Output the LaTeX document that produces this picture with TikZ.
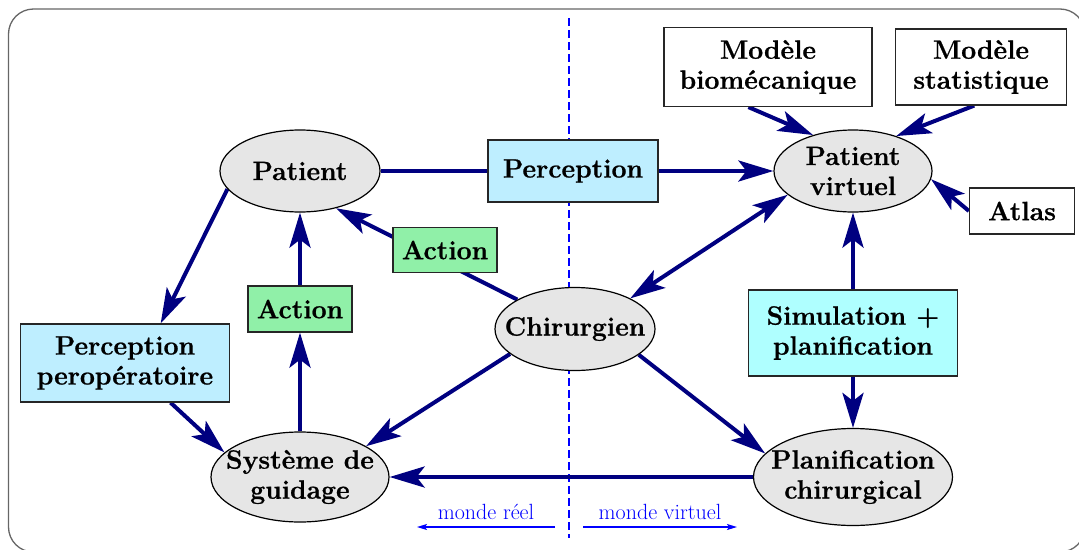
\documentclass[tikz,border=0pt]{standalone}
\usepackage{fontspec}
\setmainfont{Latin Modern Roman}[BoldFeatures={FakeBold=0.8}]
\usetikzlibrary{arrows.meta,shapes.geometric,backgrounds}
\definecolor{navyc}{RGB}{0,0,128}
\definecolor{ellgray}{RGB}{230,230,230}
\definecolor{percol}{RGB}{190,238,255}
\definecolor{simcol}{RGB}{175,255,255}
\definecolor{actcol}{RGB}{144,240,168}
\begin{document}
\begin{tikzpicture}[x=1pt,y=-1pt,
  lbl/.style={font=\fontsize{26.5}{30}\selectfont\bfseries, align=center, inner sep=0pt},
  ell/.style={lbl, ellipse, draw=black, line width=1.2pt, fill=ellgray, inner sep=-30pt},
  box/.style={lbl, rectangle, draw=black!85, line width=1.2pt},
  arr/.style={draw=navyc, line width=4pt, -{Stealth[length=35pt,width=21pt,inset=8pt]}},
  darr/.style={draw=navyc, line width=4pt, {Stealth[length=35pt,width=21pt,inset=8pt]}-{Stealth[length=35pt,width=21pt,inset=8pt]}},
  blarr/.style={draw=blue, line width=1.3pt, -{Stealth[length=10pt,width=6pt,inset=2pt]}},
  bltext/.style={font=\fontsize{22}{24}\selectfont, text=blue, inner sep=0pt},
  divider/.style={draw=blue, line width=2pt, dash pattern=on 8pt off 4pt}
]
\useasboundingbox (0,0) rectangle (1079,549);
\draw[black!60, line width=1.3pt, rounded corners=25pt] (8.5,9) rectangle (1085,552);

% nodes
\node[ell, minimum width=160pt, minimum height=82pt] (pat) at (300,171) {Patient};
\node[box, fill=percol, minimum width=170pt, minimum height=62pt] (perc) at (573,171) {Perception};
\node[box, fill=actcol, minimum width=104pt, minimum height=45pt] (act1) at (445,250) {Action};
\node[box, fill=white, minimum width=208pt, minimum height=79pt] (bio) at (768,67) {Modèle\\biomécanique};
\node[box, fill=white, minimum width=171pt, minimum height=76pt] (stat) at (981,67) {Modèle\\statistique};
\node[ell, minimum width=158pt, minimum height=82pt] (pv) at (853,171) {Patient\\virtuel};
\node[box, fill=white, minimum width=105pt, minimum height=46pt] (atlas) at (1022,211) {Atlas};
\node[box, fill=percol, minimum width=209pt, minimum height=78pt] (perop) at (125,363) {Perception\\peropératoire};
\node[box, fill=actcol, minimum width=104pt, minimum height=46pt] (act2) at (300,309) {Action};
\node[ell, minimum width=178pt, minimum height=90pt] (sys) at (300,477) {Système de\\guidage};
\node[ell, minimum width=160pt, minimum height=83pt] (chir) at (575,329) {Chirurgien};
\node[box, fill=simcol, minimum width=209pt, minimum height=86pt] (sim) at (853,333) {Simulation +\\planification};
\node[ell, minimum width=199pt, minimum height=97pt] (plan) at (853,477) {Planification\\chirurgical};

\coordinate (dtop) at (569,18);
\coordinate (dbot) at (569,538);
\coordinate (mrA) at (555,527);
\coordinate (mrB) at (417,527);
\coordinate (mvA) at (583,527);
\coordinate (mvB) at (737,527);

\begin{pgfonlayer}{background}
\draw[divider] (dtop) -- (dbot);
\draw[arr] (pat) -- (pv);
\draw[arr] (pat.194) -- (perop.48);
\draw[arr] (perop.-41) -- (sys.162);
\draw[arr] (sys) -- (act2);
\draw[arr] (act2) -- (pat);
\draw[arr] (chir.153) -- (pat.-46);
\draw[darr] (chir.29) -- (pv.200);
\draw[arr] (chir.201) -- (sys.25);
\draw[arr] (chir.-22) -- (plan.165);
\draw[arr] (plan) -- (sys);
\draw[arr] (sim) -- (plan);
\draw[arr] (sim) -- (pv);
\draw[arr] (bio.244) -- (pv.138);
\draw[arr] (stat.260) -- (pv.39);
\draw[arr] (atlas.west) -- (pv.-6);
\end{pgfonlayer}

\draw[blarr] (mrA) -- (mrB) node[midway, above=7pt, bltext] (mrl) {monde réel};
\draw[blarr] (mvA) -- (mvB) node[midway, above=7pt, bltext] (mvl) {monde virtuel};
\end{tikzpicture}
\end{document}
